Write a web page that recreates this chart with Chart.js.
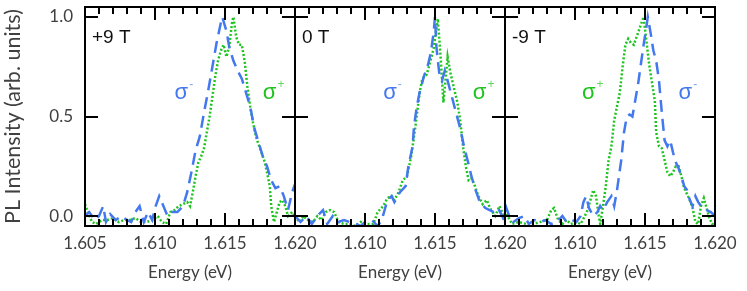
<!DOCTYPE html>
<html>
<head>
<meta charset="utf-8">
<script src="https://cdn.jsdelivr.net/npm/chart.js@4.4.1/dist/chart.umd.min.js"></script>
<style>
  html, body { margin: 0; padding: 0; background: #fff; }
  #wrap { position: relative; width: 747px; height: 291px; overflow: hidden; }
  #wrap canvas { position: absolute; top: 0; }
</style>
</head>
<body>
<div id="wrap">
  <canvas id="c1" width="320" height="291" style="left:0px"></canvas>
  <canvas id="c2" width="260" height="291" style="left:270px"></canvas>
  <canvas id="c3" width="267" height="291" style="left:480px"></canvas>
</div>
<script>
// panel names and axis ticks
const panelNames = ['+9 T', '0 T', '-9 T'];
const xTickLabels = [1.605, 1.610, 1.615, 1.620];
const yTickLabels = [0.0, 0.5, 1.0];

// +9 T : sigma- (blue dashed) and sigma+ (green dotted)
const p1MinusE = [1.6050,1.6053,1.6057,1.6060,1.6063,1.6065,1.6068,1.6072,1.6076,1.6080,1.6083,1.6086,1.6089,1.6092,1.6095,1.6098,1.6100,1.6103,1.6106,1.6109,1.6112,1.6116,1.6120,1.6123,1.6126,1.6129,1.6132,1.6135,1.6138,1.6141,1.6144,1.6147,1.6148,1.6151,1.6153,1.6156,1.6159,1.6162,1.6165,1.6168,1.6171,1.6174,1.6177,1.6180,1.6183,1.6186,1.6189,1.6192,1.6195,1.6198,1.6200];
const p1MinusI = [0.00,0.02,-0.02,0.00,0.05,-0.03,0.01,-0.02,0.00,-0.02,-0.03,0.02,0.05,-0.03,0.02,-0.02,0.04,0.10,0.05,0.00,0.02,0.02,0.05,0.12,0.22,0.33,0.40,0.52,0.63,0.75,0.87,0.97,1.00,0.93,0.85,0.78,0.73,0.69,0.62,0.55,0.44,0.37,0.30,0.25,0.18,0.14,0.15,0.10,0.03,0.12,0.16];
const p1PlusE = [1.6050,1.6052,1.6055,1.6058,1.6062,1.6066,1.6070,1.6074,1.6078,1.6082,1.6086,1.6090,1.6094,1.6098,1.6102,1.6105,1.6108,1.6111,1.6114,1.6117,1.6120,1.6123,1.6125,1.6127,1.6129,1.6131,1.6133,1.6135,1.6137,1.6139,1.6141,1.6143,1.6145,1.6147,1.6149,1.6151,1.6153,1.6155,1.6156,1.6158,1.6160,1.6162,1.6164,1.6166,1.6168,1.6170,1.6172,1.6174,1.6176,1.6178,1.6180,1.6182,1.6183,1.6185,1.6187,1.6189,1.6191,1.6193,1.6195,1.6198,1.6200];
const p1PlusI = [0.06,0.02,-0.03,-0.04,-0.02,-0.02,-0.01,-0.03,-0.02,-0.02,-0.01,-0.03,-0.03,-0.02,0.00,-0.03,-0.04,0.02,0.03,0.05,0.06,0.07,0.05,0.12,0.20,0.27,0.30,0.34,0.42,0.50,0.60,0.70,0.78,0.83,0.86,0.80,0.85,0.97,1.00,0.90,0.86,0.86,0.78,0.65,0.55,0.47,0.40,0.36,0.32,0.28,0.22,0.15,0.05,-0.03,0.02,0.07,0.08,0.05,0.00,0.02,0.00];

// 0 T
const p2MinusE = [1.6050,1.6054,1.6058,1.6062,1.6066,1.6070,1.6073,1.6077,1.6081,1.6085,1.6089,1.6093,1.6097,1.6100,1.6105,1.6109,1.6112,1.6116,1.6119,1.6121,1.6125,1.6129,1.6131,1.6134,1.6135,1.6137,1.6139,1.6142,1.6145,1.6147,1.6149,1.6150,1.6151,1.6153,1.6155,1.6157,1.6159,1.6162,1.6165,1.6168,1.6171,1.6174,1.6176,1.6179,1.6182,1.6186,1.6189,1.6192,1.6195,1.6198,1.6200];
const p2MinusI = [0.00,-0.03,0.00,-0.04,0.00,0.03,-0.04,0.00,-0.03,-0.02,-0.03,-0.04,-0.05,-0.03,-0.02,-0.05,-0.02,0.08,0.10,0.07,0.12,0.15,0.25,0.35,0.45,0.55,0.62,0.70,0.76,0.82,0.92,1.00,0.85,0.72,0.68,0.73,0.68,0.60,0.52,0.44,0.34,0.26,0.20,0.13,0.07,0.04,0.03,0.02,0.04,0.00,-0.03];
const p2PlusE = [1.6050,1.6053,1.6056,1.6059,1.6063,1.6066,1.6069,1.6072,1.6075,1.6078,1.6081,1.6085,1.6089,1.6093,1.6097,1.6101,1.6106,1.6109,1.6113,1.6116,1.6119,1.6121,1.6124,1.6127,1.6130,1.6133,1.6136,1.6139,1.6141,1.6144,1.6146,1.6149,1.6151,1.6152,1.6154,1.6156,1.6158,1.6159,1.6161,1.6164,1.6166,1.6168,1.6170,1.6172,1.6174,1.6176,1.6178,1.6181,1.6184,1.6187,1.6190,1.6193,1.6196,1.6198,1.6200];
const p2PlusI = [0.00,-0.03,0.00,-0.02,-0.03,0.00,-0.02,0.02,0.03,0.02,-0.03,-0.04,-0.04,-0.05,-0.03,-0.04,-0.04,0.02,0.05,0.09,0.10,0.08,0.12,0.18,0.20,0.30,0.45,0.62,0.69,0.71,0.76,0.84,0.94,0.99,0.80,0.57,0.72,0.80,0.72,0.63,0.57,0.48,0.35,0.25,0.18,0.19,0.16,0.10,0.06,0.08,0.03,0.00,0.05,0.02,-0.03];

// -9 T
const p3MinusE = [1.6050,1.6053,1.6056,1.6060,1.6064,1.6067,1.6071,1.6075,1.6079,1.6083,1.6087,1.6091,1.6094,1.6098,1.6101,1.6104,1.6106,1.6108,1.6110,1.6113,1.6116,1.6118,1.6120,1.6123,1.6126,1.6128,1.6130,1.6133,1.6135,1.6137,1.6139,1.6141,1.6143,1.6145,1.6147,1.6149,1.6151,1.6152,1.6154,1.6156,1.6158,1.6160,1.6162,1.6164,1.6166,1.6168,1.6170,1.6172,1.6174,1.6176,1.6178,1.6180,1.6182,1.6184,1.6186,1.6188,1.6191,1.6194,1.6197,1.6200];
const p3MinusI = [0.06,0.00,-0.03,-0.01,0.00,-0.04,-0.02,-0.03,-0.02,-0.04,-0.03,0.00,-0.03,-0.02,-0.03,0.00,0.07,0.10,0.04,0.00,0.02,0.05,0.03,0.07,0.10,0.05,0.13,0.28,0.42,0.50,0.51,0.50,0.58,0.66,0.76,0.86,0.95,1.00,0.92,0.83,0.78,0.68,0.52,0.38,0.35,0.38,0.32,0.27,0.24,0.20,0.15,0.13,0.08,0.05,0.10,0.07,0.04,0.03,0.02,0.00];
const p3PlusE = [1.6050,1.6052,1.6055,1.6060,1.6065,1.6070,1.6075,1.6080,1.6083,1.6085,1.6088,1.6091,1.6094,1.6097,1.6101,1.6104,1.6107,1.6109,1.6111,1.6113,1.6115,1.6117,1.6118,1.6120,1.6122,1.6124,1.6126,1.6128,1.6130,1.6132,1.6134,1.6136,1.6138,1.6140,1.6142,1.6144,1.6146,1.6148,1.6149,1.6151,1.6153,1.6155,1.6157,1.6158,1.6160,1.6162,1.6164,1.6166,1.6168,1.6170,1.6172,1.6174,1.6176,1.6178,1.6180,1.6182,1.6184,1.6186,1.6188,1.6190,1.6192,1.6194,1.6196,1.6198,1.6200];
const p3PlusI = [0.03,0.00,-0.04,-0.03,-0.04,-0.04,-0.03,-0.02,0.03,0.04,-0.02,-0.04,-0.02,-0.04,-0.03,-0.04,0.00,0.03,0.08,0.13,0.10,0.00,-0.04,0.05,0.15,0.28,0.35,0.48,0.55,0.62,0.75,0.86,0.89,0.87,0.86,0.90,0.94,0.98,1.00,0.88,0.76,0.67,0.58,0.42,0.35,0.34,0.28,0.22,0.20,0.22,0.25,0.25,0.20,0.14,0.11,0.08,0.04,-0.03,-0.04,0.05,0.09,0.04,-0.01,-0.04,-0.04];

const blue = '#4378ee';
const green = '#1ec41e';
const textGrey = '#404040';

// draws the box, the inward ticks and the text labels inside each panel
const panelDecor = {
  id: 'panelDecor',
  afterDatasetsDraw(chart, args, opts) {
    const ctx = chart.ctx;
    const a = chart.chartArea;
    const x = chart.scales.x, y = chart.scales.y;
    ctx.save();
    ctx.strokeStyle = '#000';
    ctx.lineWidth = 2;
    ctx.strokeRect(a.left, a.top, a.right - a.left, a.bottom - a.top);
    ctx.beginPath();
    for (let k = 0; k <= 15; k++) {
      const px = Math.round(x.getPixelForValue(x.min + k * 0.001));
      const len = k % 5 === 0 ? 13 : 7;
      ctx.moveTo(px, a.bottom); ctx.lineTo(px, a.bottom - len);
      ctx.moveTo(px, a.top); ctx.lineTo(px, a.top + len);
    }
    yTickLabels.forEach(v => {
      const py = Math.round(y.getPixelForValue(v));
      ctx.moveTo(a.left, py); ctx.lineTo(a.left + 13, py);
      ctx.moveTo(a.right, py); ctx.lineTo(a.right - 13, py);
    });
    ctx.stroke();

    ctx.fillStyle = '#111';
    ctx.font = '19px "Liberation Sans"';
    ctx.textBaseline = 'alphabetic';
    ctx.textAlign = 'left';
    ctx.fillText(opts.name, a.left + 7, a.top + 36);

    opts.sigmas.forEach(s => {
      const px = x.getPixelForValue(s.e);
      const py = y.getPixelForValue(s.v);
      ctx.fillStyle = s.color;
      ctx.font = '22px "Liberation Sans"';
      ctx.fillText('σ', px, py);
      const w = ctx.measureText('σ').width;
      ctx.globalAlpha = 0.7;
      ctx.font = '12px "Liberation Sans"';
      ctx.fillText(s.sup, px + w + 1, py - 11);
      ctx.globalAlpha = 1;
    });
    ctx.restore();
  }
};

function makeChart(id, idx, minusE, minusI, plusE, plusI, sigmas) {
  const first = idx === 0;
  return new Chart(document.getElementById(id), {
    type: 'line',
    data: {
      datasets: [{
        label: 'sigma-',
        data: minusE.map((e, i) => ({x: e, y: minusI[i]})),
        borderColor: blue,
        borderWidth: 2.5,
        borderDash: [12, 7],
        pointRadius: 0,
        tension: 0,
        fill: false
      }, {
        label: 'sigma+',
        data: plusE.map((e, i) => ({x: e, y: plusI[i]})),
        borderColor: green,
        borderWidth: 2.5,
        borderDash: [2, 2],
        pointRadius: 0,
        tension: 0,
        fill: false
      }]
    },
    options: {
      responsive: false,
      animation: false,
      events: [],
      layout: {padding: {left: first ? 0 : 25, right: id === 'c3' ? 32 : 25, top: 7, bottom: 0}},
      plugins: {
        legend: {display: false},
        tooltip: {enabled: false},
        panelDecor: {name: panelNames[idx], sigmas: sigmas}
      },
      scales: {
        x: {
          type: 'linear',
          min: 1.605,
          max: 1.620,
          grid: {display: false, drawTicks: false},
          border: {display: false},
          afterBuildTicks: s => { s.ticks = xTickLabels.map(v => ({value: v})); },
          afterFit: s => { s.height = 65; s.paddingLeft = 0; s.paddingRight = 0; },
          ticks: {
            maxRotation: 0,
            autoSkip: false,
            padding: 7,
            color: textGrey,
            font: {family: 'Lato', size: 17},
            callback: v => (!first && v === 1.605) ? '' : Number(v).toFixed(3)
          },
          title: {
            display: true,
            text: 'Energy (eV)',
            color: textGrey,
            font: {family: 'Lato', size: 17},
            padding: {top: 0, bottom: 8}
          }
        },
        y: {
          display: first,
          min: -0.05,
          max: 1.05,
          grid: {display: false, drawTicks: false},
          border: {display: false},
          afterBuildTicks: s => { s.ticks = yTickLabels.map(v => ({value: v})); },
          afterFit: s => { s.width = first ? 85 : 0; s.paddingTop = 0; s.paddingBottom = 0; },
          ticks: {
            padding: 12,
            color: textGrey,
            font: {family: 'Lato', size: 17},
            callback: v => Number(v).toFixed(1)
          },
          title: {
            display: true,
            text: 'PL Intensity (arb. units)',
            color: textGrey,
            font: {family: 'Lato', size: 21.5},
            padding: {top: 0, bottom: 1}
          }
        }
      }
    },
    plugins: [panelDecor]
  });
}

makeChart('c1', 0, p1MinusE, p1MinusI, p1PlusE, p1PlusI, [
  {e: 1.6114, v: 0.59, color: blue, sup: '-'},
  {e: 1.6177, v: 0.59, color: green, sup: '+'}
]);
makeChart('c2', 1, p2MinusE, p2MinusI, p2PlusE, p2PlusI, [
  {e: 1.6113, v: 0.59, color: blue, sup: '-'},
  {e: 1.6177, v: 0.59, color: green, sup: '+'}
]);
makeChart('c3', 2, p3MinusE, p3MinusI, p3PlusE, p3PlusI, [
  {e: 1.6105, v: 0.59, color: green, sup: '+'},
  {e: 1.6174, v: 0.59, color: blue, sup: '-'}
]);
</script>
</body>
</html>
